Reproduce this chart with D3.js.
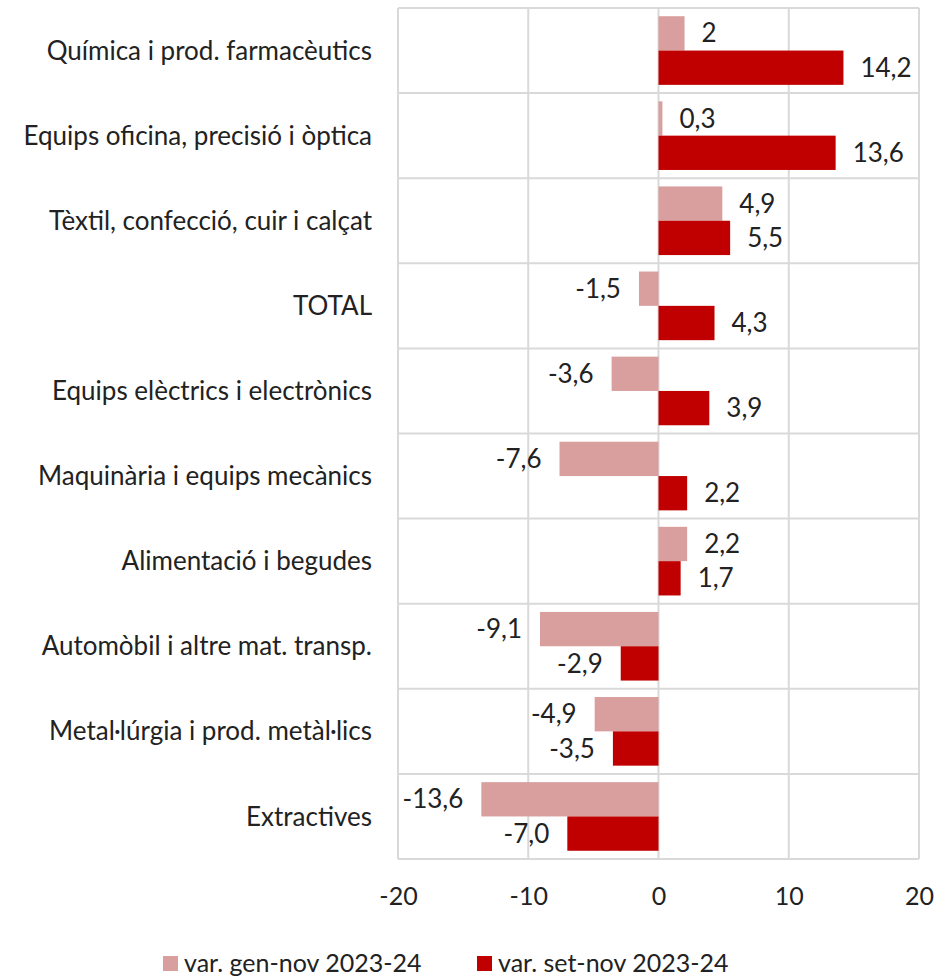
<!DOCTYPE html>
<html>
<head>
<meta charset="utf-8">
<script src="https://cdn.jsdelivr.net/npm/d3@7"></script>
<style>
  body { margin: 0; background: #fff; }
  text { font-family: Lato, "Open Sans", sans-serif; fill: #222; }
</style>
</head>
<body>
<svg id="chart" width="941" height="979"></svg>
<script>
// categories, top to bottom
var categories = [
    "Química i prod. farmacèutics",
    "Equips oficina, precisió i òptica",
    "Tèxtil, confecció, cuir i calçat",
    "TOTAL",
    "Equips elèctrics i electrònics",
    "Maquinària i equips mecànics",
    "Alimentació i begudes",
    "Automòbil i altre mat. transp.",
    "Metal·lúrgia i prod. metàl·lics",
    "Extractives"
];
var serieNames = ["var. gen-nov 2023-24", "var. set-nov 2023-24"];
var genNov = [2.0, 0.3, 4.9, -1.5, -3.6, -7.6, 2.2, -9.1, -4.9, -13.6];
var setNov = [14.2, 13.6, 5.5, 4.3, 3.9, 2.2, 1.7, -2.9, -3.5, -7.0];
var genNovLabels = ["2", "0,3", "4,9", "-1,5", "-3,6", "-7,6", "2,2", "-9,1", "-4,9", "-13,6"];
var setNovLabels = ["14,2", "13,6", "5,5", "4,3", "3,9", "2,2", "1,7", "-2,9", "-3,5", "-7,0"];
var xTicks = [-20, -10, 0, 10, 20];
var colors = ["#d99e9e", "#c00000"];

var svg = d3.select("#chart");
var plotLeft = 398, plotRight = 919, plotTop = 8, plotBottom = 859;
var fontSize = "26px";

var xScale = d3.scaleLinear().domain([-20, 20]).range([plotLeft, plotRight]);
var yScale = d3.scaleBand().domain(categories).range([plotTop, plotBottom]);
var subScale = d3.scaleBand().domain([0, 1]).range([0, yScale.bandwidth()]).paddingOuter(0.24).paddingInner(0);

//grid: vertical lines
svg.selectAll("line.vgrid")
    .data(xTicks)
    .enter()
    .append("line")
    .attr("class", "vgrid")
    .attr("x1", function(d) { return xScale(d); })
    .attr("x2", function(d) { return xScale(d); })
    .attr("y1", plotTop)
    .attr("y2", plotBottom)
    .style("stroke", "#d9d9d9")
    .style("stroke-width", 2);

//grid: horizontal lines at category boundaries
var bounds = categories.map(function(c) { return yScale(c); }).concat([plotBottom]);
svg.selectAll("line.hgrid")
    .data(bounds)
    .enter()
    .append("line")
    .attr("class", "hgrid")
    .attr("x1", plotLeft)
    .attr("x2", plotRight)
    .attr("y1", function(d) { return d; })
    .attr("y2", function(d) { return d; })
    .style("stroke", "#d9d9d9")
    .style("stroke-width", 2);

var series = [genNov, setNov];
var labels = [genNovLabels, setNovLabels];

series.forEach(function(vals, s) {
    var rows = vals.map(function(v, i) { return {cat: categories[i], v: v, label: labels[s][i]}; });

    svg.selectAll("rect.s" + s)
        .data(rows)
        .enter()
        .append("rect")
        .attr("class", "s" + s)
        .attr("x", function(d) { return xScale(Math.min(0, d.v)); })
        .attr("width", function(d) { return Math.abs(xScale(d.v) - xScale(0)); })
        .attr("y", function(d) { return yScale(d.cat) + subScale(s); })
        .attr("height", subScale.bandwidth())
        .attr("fill", colors[s]);

    svg.selectAll("text.l" + s)
        .data(rows)
        .enter()
        .append("text")
        .attr("class", "l" + s)
        .attr("x", function(d) { return d.v >= 0 ? xScale(d.v) + 17 : xScale(d.v) - 18; })
        .attr("y", function(d) { return yScale(d.cat) + subScale(s) + subScale.bandwidth() / 2; })
        .attr("dy", "0.35em")
        .attr("text-anchor", function(d) { return d.v >= 0 ? "start" : "end"; })
        .attr("font-size", fontSize)
        .text(function(d) { return d.label; });
});

//category labels
svg.selectAll("text.cat")
    .data(categories)
    .enter()
    .append("text")
    .attr("class", "cat")
    .attr("x", 372)
    .attr("y", function(d) { return yScale(d) + yScale.bandwidth() / 2; })
    .attr("dy", "0.35em")
    .attr("text-anchor", "end")
    .attr("font-size", fontSize)
    .text(function(d) { return d; });

//X axis
var xAxis = d3.axisBottom(xScale).tickValues(xTicks).tickSize(0).tickPadding(28)
    .tickFormat(function(d) { return String(d); });
var gx = svg.append("g")
    .attr("class", "x axis")
    .attr("transform", "translate(0," + plotBottom + ")")
    .call(xAxis);
gx.select(".domain").remove();
gx.selectAll("text")
    .attr("font-size", "25px")
    .style("font-family", "Lato, sans-serif")
    .attr("fill", "#222");

//legend
var legendX = [163, 477];
var legend = svg.selectAll("g.legend")
    .data(serieNames)
    .enter()
    .append("g")
    .attr("class", "legend")
    .attr("transform", function(d, i) { return "translate(" + legendX[i] + ",963)"; });
legend.append("rect")
    .attr("x", 0)
    .attr("y", -7)
    .attr("width", 15)
    .attr("height", 15)
    .attr("fill", function(d, i) { return colors[i]; });
legend.append("text")
    .attr("x", 21)
    .attr("y", 0)
    .attr("dy", "0.35em")
    .attr("font-size", "25px")
    .text(function(d) { return d; });
</script>
</body>
</html>
